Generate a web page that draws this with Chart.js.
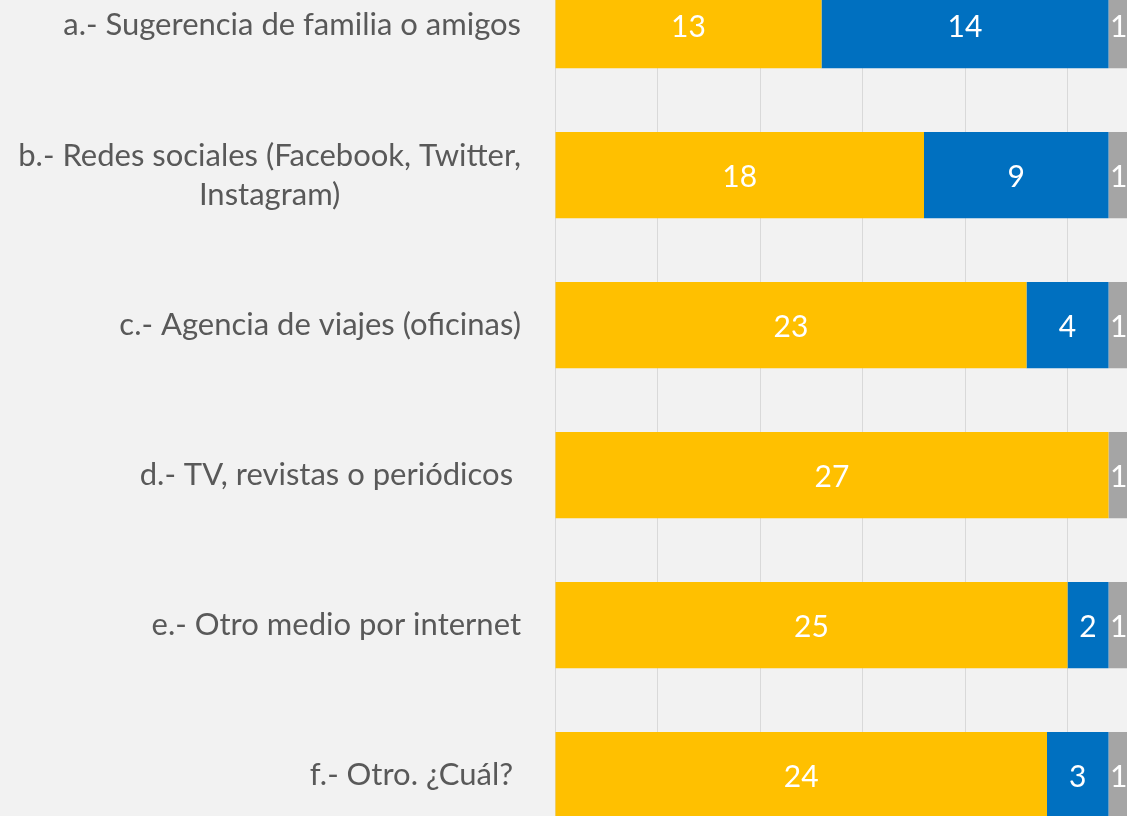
<!DOCTYPE html>
<html>
<head>
<meta charset="utf-8">
<script src="https://cdn.jsdelivr.net/npm/chart.js@4"></script>
<style>
  html, body { margin: 0; padding: 0; background: #F2F2F2; overflow: hidden; }
  #wrap { position: absolute; left: 0; top: -50px; width: 1170px; height: 900px; }
</style>
</head>
<body>
<div id="wrap"><canvas id="chart"></canvas></div>
<script>
// Categorías (etiquetas del eje)
const categorias = [
  "a.- Sugerencia de familia o amigos",
  ["b.- Redes sociales (Facebook, Twitter,", "Instagram)"],
  "c.- Agencia de viajes (oficinas)",
  "d.- TV, revistas o periódicos ",
  "e.- Otro medio por internet",
  "f.- Otro. ¿Cuál? ",
];

// Series
const serieAmarilla = [13, 18, 23, 27, 25, 24];
const serieAzul = [14, 9, 4, 0, 2, 3];
const serieGris = [1, 1, 1, 1, 1, 1];

// Escala del eje x
const xMin = 0;
const xMax = 30;
const xPaso = 5;

const fuente = "Lato, 'Open Sans', sans-serif";

// Etiquetas de categoría (líneas centradas entre sí, bloque alineado a la derecha)
const etiquetasPlugin = {
  id: "etiquetas",
  afterDraw(chart) {
    const ctx = chart.ctx;
    const y = chart.scales.y;
    const derecha = 521;
    const alto = 39;
    ctx.save();
    ctx.font = "31px " + fuente;
    ctx.fillStyle = "#595959";
    ctx.textBaseline = "middle";
    ctx.textAlign = "center";
    categorias.forEach((cat, i) => {
      const lineas = Array.isArray(cat) ? cat : [cat];
      const ancho = Math.max(...lineas.map((l) => ctx.measureText(l).width));
      const cx = derecha - ancho / 2;
      const cy = y.getPixelForValue(i) - ((lineas.length - 1) * alto) / 2;
      lineas.forEach((l, j) => ctx.fillText(l, cx, cy + j * alto));
    });
    ctx.restore();
  },
};

// Valores dentro de las barras
const valoresPlugin = {
  id: "valores",
  afterDatasetsDraw(chart) {
    const ctx = chart.ctx;
    ctx.save();
    ctx.font = "30px " + fuente;
    ctx.fillStyle = "#FFFFFF";
    ctx.textAlign = "center";
    ctx.textBaseline = "middle";
    chart.data.datasets.forEach((ds, d) => {
      chart.getDatasetMeta(d).data.forEach((bar, i) => {
        const v = ds.data[i];
        if (!v) return;
        ctx.fillText(String(v), (bar.x + bar.base) / 2, bar.y + 2);
      });
    });
    ctx.restore();
  },
};

const ctx = document.getElementById("chart").getContext("2d");
new Chart(ctx, {
  type: "bar",
  data: {
    labels: categorias,
    datasets: [
      { label: "Serie 1", data: serieAmarilla, backgroundColor: "#FFC000" },
      { label: "Serie 2", data: serieAzul, backgroundColor: "#0070C0" },
      { label: "Serie 3", data: serieGris, backgroundColor: "#A5A5A5" },
    ],
  },
  options: {
    indexAxis: "y",
    responsive: true,
    maintainAspectRatio: false,
    animation: false,
    layout: { padding: 0 },
    datasets: {
      bar: { categoryPercentage: 0.575, barPercentage: 1, borderWidth: 0 },
    },
    plugins: {
      legend: { display: false },
      tooltip: { enabled: false },
    },
    scales: {
      x: {
        stacked: true,
        min: xMin,
        max: xMax,
        ticks: { display: false, stepSize: xPaso },
        grid: { color: "#D9D9D9", drawTicks: false },
        border: { display: false },
        afterFit: (scale) => { scale.height = 0; },
      },
      y: {
        stacked: true,
        ticks: { display: false },
        grid: { display: false },
        border: { display: true, color: "#D9D9D9" },
        afterFit: (scale) => { scale.width = 555; },
      },
    },
  },
  plugins: [etiquetasPlugin, valoresPlugin],
});
</script>
</body>
</html>
